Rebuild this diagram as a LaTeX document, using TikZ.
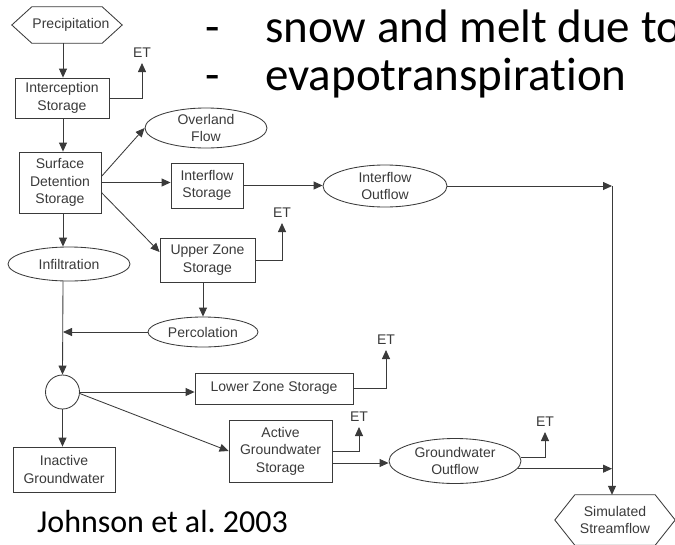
\documentclass[tikz,border=0pt]{standalone}
\usepackage{fontspec}
\setmainfont{Liberation Sans}
\newfontfamily\calibri[Ligatures=NoCommon]{Carlito}
\usetikzlibrary{arrows.meta,shapes.geometric,calc}
\definecolor{ln}{HTML}{3A3A3A}
\begin{document}
\begin{tikzpicture}[x=1pt,y=-1pt,
  every node/.style={font=\fontsize{14}{17.5}\selectfont, text=ln},
  line/.style={draw=ln, line width=0.85pt},
  arr/.style={line, -{Triangle[length=9pt,width=8pt]}},
  box/.style={draw=ln, line width=0.85pt, rectangle, align=center, inner sep=0pt},
  ell/.style={draw=ln, line width=0.85pt, ellipse, align=center, inner sep=-5pt},
  etl/.style={anchor=base, inner sep=0pt, text depth=0pt, outer sep=6pt},
  title/.style={anchor=base west, inner sep=0pt, text=black, font=\calibri\fontsize{47}{56}\selectfont}]
\useasboundingbox (0,0) rectangle (675,544);
\clip (0,0) rectangle (675,544);

% title text
\node[title] (d1) at (205,42) {-};
\node[title] (t1) at (265,42) {snow and melt due to};
\node[title] (d2) at (205,90) {-};
\node[title] (t2) at (265,90) {evapotranspiration};
\node[title, font=\calibri\fontsize{32}{38}\selectfont] (cite) at (37,532) {Johnson et al.\ 2003};

% nodes
\node[inner sep=0pt, minimum width=110pt, minimum height=36pt] (prec) at (67,25) {\hspace{8pt}Precipitation};
\draw[line] (prec.west) -- ([xshift=20pt]prec.north west) -- ([xshift=-20pt]prec.north east)
  -- (prec.east) -- ([xshift=-20pt]prec.south east) -- ([xshift=20pt]prec.south west) -- cycle;
\node[box, minimum width=94pt, minimum height=40pt] (inter) at (62,98) {Interception\\Storage};
\node[box, minimum width=82pt, minimum height=61pt] (surf) at (60,182.5) {Surface\\Detention\\Storage};
\node[ell, minimum width=122pt, minimum height=40pt] (over) at (206,128) {Overland\\Flow};
\node[box, minimum width=72pt, minimum height=45pt] (ifs) at (207,185.5) {Interflow\\Storage};
\node[ell, minimum width=124pt, minimum height=42pt] (ifo) at (385,186) {Interflow\\Outflow};
\node[box, minimum width=95pt, minimum height=44pt] (upz) at (207.5,260) {Upper Zone\\Storage};
\node[ell, minimum width=110pt, minimum height=30pt] (perc) at (203,332) {Percolation};
\node[ell, minimum width=122pt, minimum height=34pt] (infil) at (69,264) {Infiltration};
\node[circle, draw=ln, line width=0.85pt, minimum size=34pt, inner sep=0pt] (circ) at (62.5,392) {};
\node[box, minimum width=158pt, minimum height=31pt] (lzs) at (274,388.5) {Lower Zone Storage};
\node[box, minimum width=103pt, minimum height=62pt] (agw) at (280.5,451) {Active\\Groundwater\\Storage};
\node[ell, minimum width=132pt, minimum height=45pt] (gwo) at (455,461) {Groundwater\\Outflow};
\node[box, minimum width=102pt, minimum height=45pt] (inact) at (64,469.5) {Inactive\\Groundwater};
\node[inner sep=0pt, minimum width=120pt, minimum height=50pt, align=center] (sim) at (615,520) {Simulated\\Streamflow};
\draw[line] (sim.west) -- ([xshift=20pt]sim.north west) -- ([xshift=-20pt]sim.north east)
  -- (sim.east) -- ([xshift=-20pt]sim.south east) -- ([xshift=20pt]sim.south west) -- cycle;

% ET labels
\node[etl] (et1) at (142,57) {ET};
\node[etl] (et2) at (282,217) {ET};
\node[etl] (et3) at (386,344) {ET};
\node[etl] (et4) at (359,421) {ET};
\node[etl] (et5) at (545,426) {ET};

% connectors
\coordinate (spine) at (63,0);
\coordinate (j1) at (612,185);
\draw[arr] (prec.south -| spine) -- (inter.north -| spine);
\draw[arr] (inter.east) -| (et1.south);
\draw[arr] (inter.south -| spine) -- (surf.north -| spine);
\draw[arr] ([yshift=6pt]surf.east) -- (over.west);
\draw[arr] (surf.east) -- (surf.east -| ifs.west);
\draw[arr] ([yshift=-10pt]surf.east) -- ([yshift=8pt]upz.west);
\draw[arr] (ifs.east) -- (ifs.east -| ifo.west);
\draw[arr] (ifo.east) -- (ifo.east -| j1);
\draw[arr] (ifo.east -| j1) -- (j1 |- sim.north);
\draw[arr] (upz.east) -| (et2.south);
\draw[arr] (upz.south -| perc.north) -- (perc.north);
\draw[arr] (perc.west) -- (perc.west -| spine);
\draw[arr] (surf.south -| spine) -- (infil.north -| spine);
\draw[arr] (infil.south -| spine) -- (circ.north);
\draw[arr] (circ.east) -- (circ.east -| lzs.west);
\draw[arr] (lzs.east) -| (et3.south);
\draw[arr] (circ.-5) -- (agw.west);
\draw[arr] (circ.south) -- (circ.south |- inact.north);
\draw[arr] (agw.east) -| (et4.south);
\draw[arr] ([yshift=-12pt]agw.east) -- ([yshift=-12pt]agw.east -| gwo.west);
\draw[arr] (gwo.3) -| (et5.south);
\draw[arr] (gwo.-7) -- (gwo.-7 -| j1);
\end{tikzpicture}
\end{document}
